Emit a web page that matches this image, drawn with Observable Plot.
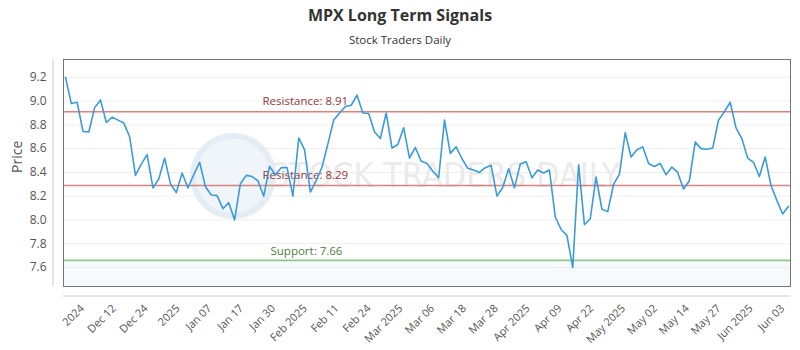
<!DOCTYPE html>
<html><head><meta charset="utf-8">
<script src="https://cdn.jsdelivr.net/npm/d3@7"></script>
<script src="https://cdn.jsdelivr.net/npm/@observablehq/plot@0.6"></script>
<style>
body{margin:0;background:#fff;font-family:"Open Sans",sans-serif;}
#wrap{width:800px;height:350px;position:relative;overflow:hidden;}
#title{position:absolute;top:4px;left:0;width:800px;text-align:center;font-size:16px;line-height:22px;font-weight:700;color:#333;}
#sub{position:absolute;top:32px;left:0;width:800px;text-align:center;font-size:11.5px;line-height:16px;color:#333;}
#chart{position:absolute;top:50px;left:0;}
</style></head>
<body>
<div id="wrap">
<div id="title"></div>
<div id="sub"></div>
<div id="chart"></div>
</div>
<script>
const prices = [9.20,8.98,8.99,8.745,8.74,8.945,9.01,8.82,8.865,8.84,8.815,8.70,8.375,8.47,8.55,8.27,8.345,8.52,8.305,8.23,
8.395,8.27,8.38,8.485,8.28,8.21,8.205,8.095,8.145,8.00,8.305,8.375,8.365,8.33,8.20,8.45,8.38,8.44,8.44,8.20,
8.69,8.59,8.235,8.33,8.445,8.64,8.84,8.90,8.955,8.965,9.05,8.90,8.895,8.74,8.685,8.90,8.605,8.635,8.775,8.52,
8.61,8.495,8.475,8.41,8.355,8.84,8.56,8.615,8.515,8.435,8.42,8.40,8.44,8.46,8.20,8.275,8.43,8.27,8.47,8.49,
8.355,8.42,8.395,8.42,8.025,7.92,7.87,7.60,8.465,7.96,8.01,8.36,8.09,8.07,8.30,8.385,8.735,8.53,8.59,8.615,
8.475,8.45,8.475,8.38,8.445,8.40,8.26,8.33,8.655,8.60,8.595,8.605,8.84,8.91,8.99,8.775,8.685,8.52,8.485,8.365,
8.53,8.29,8.165,8.05,8.115];
const xTickLabels = ["2024","Dec 12","Dec 24","2025","Jan 07","Jan 17","Jan 30","Feb 2025","Feb 11","Feb 24","Mar 2025","Mar 06","Mar 18","Mar 28","Apr 2025","Apr 09","Apr 22","May 2025","May 02","May 14","May 27","Jun 2025","Jun 03"];
const yTicks = [7.6,7.8,8.0,8.2,8.4,8.6,8.8,9.0,9.2];
const levelValues = [8.91, 8.29, 7.66];
const levelLabels = ["Resistance: 8.91","Resistance: 8.29","Support: 7.66"];
const levelKinds = ["resistance","resistance","support"];
const title = "MPX Long Term Signals";
const subtitle = "Stock Traders Daily";
const watermark = "STOCK TRADERS DAILY";
const yLabel = "Price";

document.getElementById("title").textContent = title;
document.getElementById("sub").textContent = subtitle;

const data = prices.map((p, i) => ({i, p}));
const levels = levelValues.map((v, k) => ({v, label: levelLabels[k], kind: levelKinds[k]}));
const n = prices.length;
const xDomain = [-0.343, n - 1 + 0.343];
const yDomain = [7.44, 9.35];
const tickStart = 2.9, tickEnd = n - 2;
const step = (tickEnd - tickStart) / (xTickLabels.length - 1);
const xTickIdx = xTickLabels.map((_, k) => tickStart + k * step);
const labelAt = new Map(xTickIdx.map((v, k) => [v, xTickLabels[k]]));

const plot = Plot.plot({
  width: 800, height: 300,
  marginTop: 9, marginBottom: 64, marginLeft: 63, marginRight: 10,
  style: {fontFamily: "'Open Sans', sans-serif", fontSize: "11px", color: "#555", background: "transparent", overflow: "visible"},
  x: {domain: xDomain, axis: null},
  y: {domain: yDomain, axis: null},
  marks: [
    Plot.rect([0], {x1: xDomain[0], x2: xDomain[1], y1: yDomain[0], y2: levelValues[2], fill: "#f7fafd"}),
    Plot.gridY(yTicks, {stroke: "#eeeeee", strokeOpacity: 1}),
    Plot.dot([0], {frameAnchor: "middle", dx: -194, dy: 3, r: 40, fill: "#f0f5f9", stroke: "#e4edf4", strokeWidth: 6}),
    Plot.text([watermark], {frameAnchor: "middle", dx: 18, dy: 3, fontSize: 34, fill: "#ebebeb", fontFamily: "'Liberation Sans Narrow', 'DejaVu Sans Condensed', sans-serif", text: d => d}),
    Plot.ruleY(levels.filter(d => d.kind === "resistance"), {y: "v", stroke: "#d98282", strokeWidth: 1.6}),
    Plot.ruleY(levels.filter(d => d.kind === "support"), {y: "v", stroke: "#8cc68c", strokeWidth: 1.6}),
    Plot.text(levels.filter(d => d.kind === "resistance"), {y: "v", text: "label", frameAnchor: "left", dx: 199, dy: -10, textAnchor: "start", fill: "#8e3b3b", fontSize: 11.5}),
    Plot.text(levels.filter(d => d.kind === "support"), {y: "v", text: "label", frameAnchor: "left", dx: 207, dy: -9, textAnchor: "start", fill: "#4f7d3a", fontSize: 11.5}),
    Plot.line(data, {x: "i", y: "p", stroke: "#3b9bd9", strokeWidth: 1.6}),
    Plot.frame({stroke: "#777"}),
    Plot.axisY(yTicks, {tickSize: 0, tickPadding: 17, tickFormat: d3.format(".1f"), fontSize: 12, fill: "#555", label: null}),
    Plot.axisX(xTickIdx, {tickSize: 0, tickRotate: -45, tickPadding: 20, tickFormat: d => labelAt.get(d), fontSize: 11, fill: "#555", label: null}),
    Plot.text([yLabel], {frameAnchor: "left", rotate: -90, dx: -46, fontSize: 14, fill: "#555", text: d => d})
  ]
});
document.getElementById("chart").appendChild(plot);

const sx = plot.scale("x"), sy = plot.scale("y");
const svg = d3.select(plot);
const [fl, fr] = sx.range, [fb, ft] = sy.range;
svg.append("line").attr("x1", fl - 10).attr("x2", fl - 10).attr("y1", ft).attr("y2", fb).attr("stroke", "#ccc");
svg.append("line").attr("x1", fl).attr("x2", fr).attr("y1", fb + 10).attr("y2", fb + 10).attr("stroke", "#ccc");
</script>
</body></html>
